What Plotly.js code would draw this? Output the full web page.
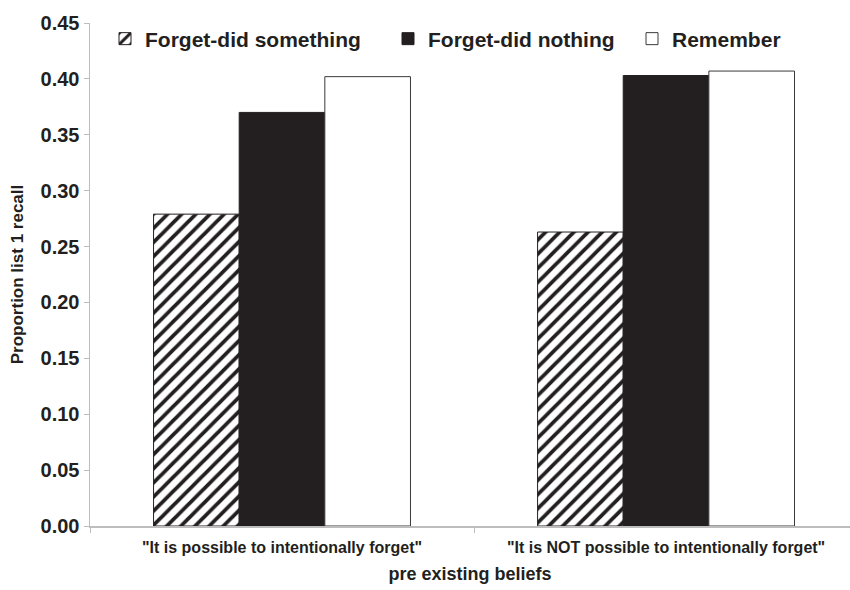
<!DOCTYPE html>
<html>
<head>
<meta charset="utf-8">
<script src="https://cdn.plot.ly/plotly-3.0.1.min.js"></script>
<style>html,body{margin:0;padding:0;background:#fff;}#chart{width:850px;height:590px;}</style>
</head>
<body>
<div id="chart"></div>
<script>
var categories = ['"It is possible to intentionally forget"', '"It is NOT possible to intentionally forget"'];
var seriesNames = ['Forget-did something', 'Forget-did nothing', 'Remember'];
var forgetDidSomething = [0.279, 0.263];
var forgetDidNothing = [0.370, 0.403];
var remember = [0.402, 0.407];
var yTickVals = [0, 0.05, 0.10, 0.15, 0.20, 0.25, 0.30, 0.35, 0.40, 0.45];
var yTickText = ['0.00','0.05','0.10','0.15','0.20','0.25','0.30','0.35','0.40','0.45'];

var ink = '#231f20';
var fontFam = 'Liberation Sans, Arial, Helvetica, sans-serif';

var traces = [
  {type:'bar', name: seriesNames[0], x: categories, y: forgetDidSomething, legend:'legend',
   marker:{color:'#ffffff', line:{color:ink, width:1},
     pattern:{shape:'/', fgcolor:ink, bgcolor:'#ffffff', size:10, solidity:0.38}}},
  {type:'bar', name: seriesNames[1], x: categories, y: forgetDidNothing, legend:'legend2',
   marker:{color:ink, line:{color:ink, width:1}}},
  {type:'bar', name: seriesNames[2], x: categories, y: remember, legend:'legend3',
   marker:{color:'#ffffff', line:{color:'#3a3a3a', width:1}}}
];

var legFont = {family: fontFam, size: 21, color: ink, weight: 'bold'};
var plotL = 90, plotW = 760, plotT = 23, plotH = 503;
function leg(px){
  return {xref:'paper', yref:'paper', x: (px - plotL)/plotW, y: 1 - (39 - plotT)/plotH,
    xanchor:'left', yanchor:'middle',
    orientation:'h', font: legFont, bgcolor:'rgba(0,0,0,0)', borderwidth:0, itemwidth:30};
}

var layout = {
  width: 850, height: 590,
  margin: {l: plotL, r: 0, t: plotT, b: 590 - plotT - plotH, autoexpand: false},
  paper_bgcolor: '#ffffff', plot_bgcolor: '#ffffff',
  barmode: 'group', bargap: 0.331, bargroupgap: 0,
  showlegend: true,
  legend: leg(105), legend2: leg(388), legend3: leg(632),
  xaxis: {
    type:'category', range:[-0.5, 1.479], showline:true, linecolor:'#bdbdbd', linewidth:1.5,
    ticks:'outside', ticklen:5, tickcolor:'#bdbdbd', tickson:'boundaries',
    showgrid:false, zeroline:false, automargin:false,
    tickfont:{family: fontFam, size:16, color: ink, weight:'bold'},
    ticklabelstandoff: 6,
    title:{text:'pre existing beliefs', font:{family: fontFam, size:18, color: ink, weight:'bold'}, standoff: 12}
  },
  yaxis: {
    range:[0, 0.45], tickvals: yTickVals, ticktext: yTickText,
    showline:true, linecolor:'#bdbdbd', linewidth:1.5,
    ticks:'outside', ticklen:5, tickcolor:'#bdbdbd',
    showgrid:false, zeroline:false, automargin:false,
    tickfont:{family: fontFam, size:20, color: ink, weight:'bold'},
    title:{text:'Proportion list 1 recall', font:{family: fontFam, size:17, color: ink, weight:'bold'}, standoff: 12}
  }
};

Plotly.newPlot('chart', traces, layout, {displayModeBar:false, staticPlot:true});
</script>
</body>
</html>
